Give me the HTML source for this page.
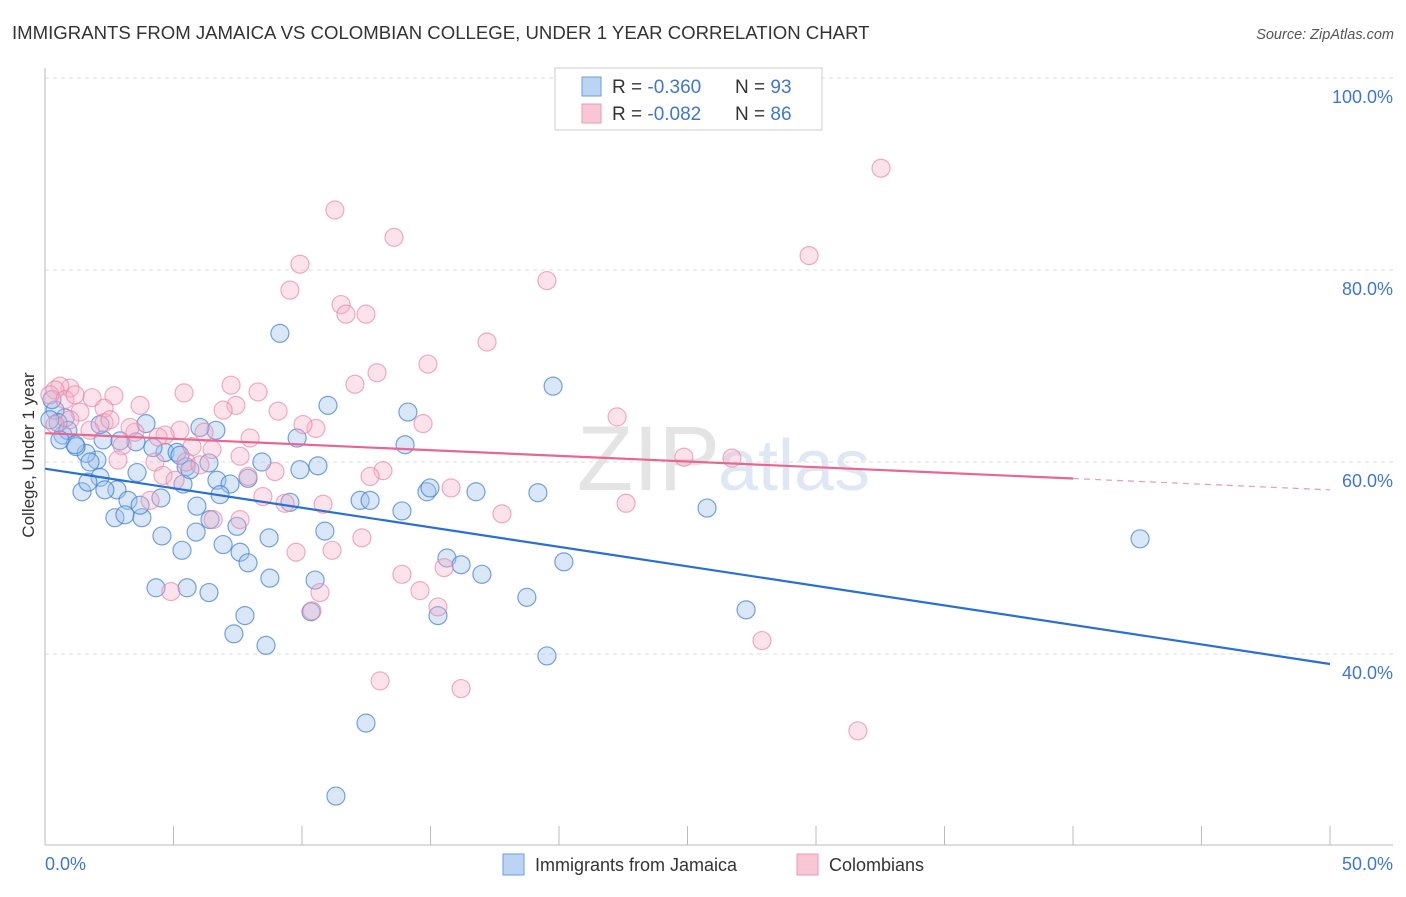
<!DOCTYPE html>
<html><head><meta charset="utf-8"><style>
body{margin:0;background:#fff;font-family:"Liberation Sans",sans-serif;}
svg text{font-family:"Liberation Sans",sans-serif;}
</style></head><body>
<svg id="chart" width="1406" height="892" viewBox="0 0 1406 892">
<text x="12" y="39" font-size="18.6" fill="#333">IMMIGRANTS FROM JAMAICA VS COLOMBIAN COLLEGE, UNDER 1 YEAR CORRELATION CHART</text>
<text x="1394" y="39" font-size="14.5" fill="#555" font-style="italic" text-anchor="end">Source: ZipAtlas.com</text>
<text x="720" y="490" font-size="92" fill="#e4e4e4" text-anchor="end" font-family="Liberation Serif">ZIP</text>
<text x="718" y="490" font-size="72" fill="#dfe7f5">atlas</text>
<g id="grid"></g>
<g id="axes"></g>
<g id="pts"></g>
<g id="trend"></g>
<text transform="translate(34,455) rotate(-90)" font-size="17" fill="#333" text-anchor="middle">College, Under 1 year</text>
<g>
<rect x="555" y="68" width="267" height="62" fill="#fff" stroke="#ccc"/>
<rect x="582" y="77" width="19" height="19" fill="#bcd4f4" stroke="#6a9ee0"/>
<rect x="582" y="104" width="19" height="19" fill="#f8c6d5" stroke="#eb9ab3"/>
<text x="612" y="93" font-size="19" fill="#333">R = <tspan fill="#3f77d0">-0.360</tspan></text>
<text x="735" y="93" font-size="19" fill="#333">N = <tspan fill="#3f77d0">93</tspan></text>
<text x="612" y="120" font-size="19" fill="#333">R = <tspan fill="#3f77d0">-0.082</tspan></text>
<text x="735" y="120" font-size="19" fill="#333">N = <tspan fill="#3f77d0">86</tspan></text>
</g>
<g>
<rect x="503" y="854" width="21" height="21" fill="#bcd4f4" stroke="#6a9ee0"/>
<text x="535" y="871" font-size="18" fill="#333">Immigrants from Jamaica</text>
<rect x="797" y="854" width="21" height="21" fill="#f8c6d5" stroke="#eb9ab3"/>
<text x="829" y="871" font-size="18" fill="#333">Colombians</text>
</g>
</svg>
<script>
const xTicks=[0,5,10,15,20,25,30,35,40,45,50];
const yTicks=[40,60,80,100];
const yTickLabels=["40.0%","60.0%","80.0%","100.0%"];
const blueX=[9.14,19.77,11.01,14.12,9.81,14.01,10.62,8.44,6.65,6.03,3.93,3.54,4.67,5.14,6.38,5.49,4.20,2.02,1.60,1.21,0.70,0.78,0.39,0.27,0.51,2.14,1.44,1.67,3.58,2.80,3.23,4.51,5.37,5.91,6.69,7.20,7.90,7.47,6.42,6.93,7.59,7.90,8.72,5.88,5.33,4.55,3.77,2.72,3.11,4.32,5.53,6.38,7.78,7.35,8.60,8.75,10.51,10.35,10.89,9.53,12.26,12.65,13.89,14.86,14.98,16.77,15.64,16.19,17.00,15.29,19.18,20.19,18.75,19.53,25.76,27.28,42.61,12.49,11.32,2.26,2.92,0.89,2.14,1.17,3.70,5.64,6.81,9.92,2.33,1.75,0.58,0.19,5.25];
const blueY=[73.4,67.9,65.9,65.2,62.5,61.8,59.6,60.0,63.3,63.6,64.0,62.1,61.0,61.0,59.9,59.5,61.5,60.2,60.9,61.6,62.8,64.6,65.4,66.5,64.1,58.4,56.9,57.9,58.9,57.1,56.0,56.25,57.7,55.4,58.1,57.7,58.3,53.3,54.0,51.4,50.6,49.5,52.1,52.7,50.8,52.3,54.2,54.2,54.5,46.9,46.9,46.4,44.0,42.1,40.9,47.9,47.7,44.4,52.8,55.8,56.0,56.0,54.9,56.9,57.3,56.9,50.0,49.3,48.3,44.0,56.8,49.6,45.9,39.8,55.2,44.6,52.0,32.8,25.2,62.3,62.2,63.3,63.9,61.8,55.5,59.2,56.6,59.2,57.1,60.0,62.3,64.4,60.7];
const pinkX=[32.53,11.28,13.58,29.73,9.92,9.53,19.53,11.52,11.71,12.49,17.20,14.90,12.92,12.06,7.24,8.29,5.41,2.68,1.83,0.97,0.58,0.39,0.19,0.78,2.30,3.70,9.07,7.43,6.93,10.54,10.04,14.71,22.26,6.19,5.25,4.67,3.50,3.31,2.30,1.36,0.97,3.00,4.40,7.98,5.72,6.50,7.59,5.49,4.28,2.84,4.59,7.90,8.95,13.15,12.65,15.80,24.86,26.73,8.48,9.34,10.82,22.61,17.78,6.54,4.09,6.03,11.17,12.33,9.77,13.89,15.53,14.59,10.70,10.39,15.29,4.90,27.90,13.04,16.19,31.63,1.75,0.39,1.17,2.53,7.59,5.06];
const pinkY=[90.6,86.25,83.4,81.5,80.6,77.9,78.9,76.4,75.4,75.4,72.5,70.2,69.3,68.1,68.0,67.3,67.2,66.9,66.7,67.7,67.9,67.5,67.0,66.5,65.6,65.9,65.3,65.9,65.4,63.5,63.9,64.0,64.7,63.1,63.3,62.8,63.1,63.6,64.1,65.2,64.4,61.7,62.6,62.5,61.6,61.3,60.6,60.0,60.0,60.2,58.6,58.5,59.0,59.1,58.5,57.3,60.5,60.4,56.4,55.7,55.6,55.7,54.6,54.0,56.0,59.7,50.8,52.1,50.6,48.3,49.0,46.6,46.4,44.5,44.9,46.5,41.4,37.2,36.4,32.0,63.3,63.9,67.0,64.4,54.0,58.1];
const blueTrend=[59.3,38.96];
const pinkTrend=[63.0,57.1];
const pinkSolidEnd=40;
const NS="http://www.w3.org/2000/svg";
const sx=v=>45+v*25.7;
const sy=v=>78+(100-v)*9.6;
function mk(tag,attrs,parent){const e=document.createElementNS(NS,tag);for(const k in attrs)e.setAttribute(k,attrs[k]);parent.appendChild(e);return e;}
const grid=document.getElementById('grid'),axes=document.getElementById('axes');
yTicks.forEach((t,i)=>{
  const l=mk('line',{x1:45,x2:1393,y1:sy(t),y2:sy(t),stroke:'#ddd','stroke-dasharray':'4,4'},grid);
  
  
  const tx=mk('text',{x:1393,y:sy(t)+25,'font-size':18,fill:'#3f77d0','text-anchor':'end'},axes);
  tx.textContent=yTickLabels[i];
  
  
});
const ax=mk('line',{x1:45,x2:45,y1:68,y2:845,stroke:'#bbb'},axes);


const bx=mk('line',{x1:45,x2:1393,y1:845,y2:845,stroke:'#bbb'},axes);


xTicks.forEach(t=>{
  const l=mk('line',{x1:sx(t),x2:sx(t),y1:826,y2:845,stroke:'#bbb'},axes);
  
  
});
const x0=mk('text',{x:45,y:870,'font-size':18,fill:'#3f77d0'},axes);x0.textContent="0.0%";


const x1=mk('text',{x:1393,y:870,'font-size':18,fill:'#3f77d0','text-anchor':'end'},axes);x1.textContent="50.0%";


const pts=document.getElementById('pts');
blueX.forEach((v,i)=>{
  const c=mk('circle',{cx:sx(v),cy:sy(blueY[i]),r:9,fill:'rgba(160,196,240,0.4)',stroke:'rgba(60,125,215,0.7)','stroke-width':1.2},pts);
  
  
});
pinkX.forEach((v,i)=>{
  const c=mk('circle',{cx:sx(v),cy:sy(pinkY[i]),r:9,fill:'rgba(245,175,198,0.35)',stroke:'rgba(232,130,165,0.65)','stroke-width':1.2},pts);
  
  
});
const tr=document.getElementById('trend');
const bl=mk('line',{x1:sx(0),y1:sy(blueTrend[0]),x2:sx(50),y2:sy(blueTrend[1]),stroke:'#2a6fd6','stroke-width':2.2},tr);


const pm=pinkTrend[0]+(pinkTrend[1]-pinkTrend[0])*pinkSolidEnd/50;
const pl=mk('line',{x1:sx(0),y1:sy(pinkTrend[0]),x2:sx(pinkSolidEnd),y2:sy(pm),stroke:'#e8668f','stroke-width':2.2},tr);


const pd=mk('line',{x1:sx(pinkSolidEnd),y1:sy(pm),x2:sx(50),y2:sy(pinkTrend[1]),stroke:'#e8a0b8','stroke-width':1.3,'stroke-dasharray':'6,5'},tr);


</script>
</body></html>
